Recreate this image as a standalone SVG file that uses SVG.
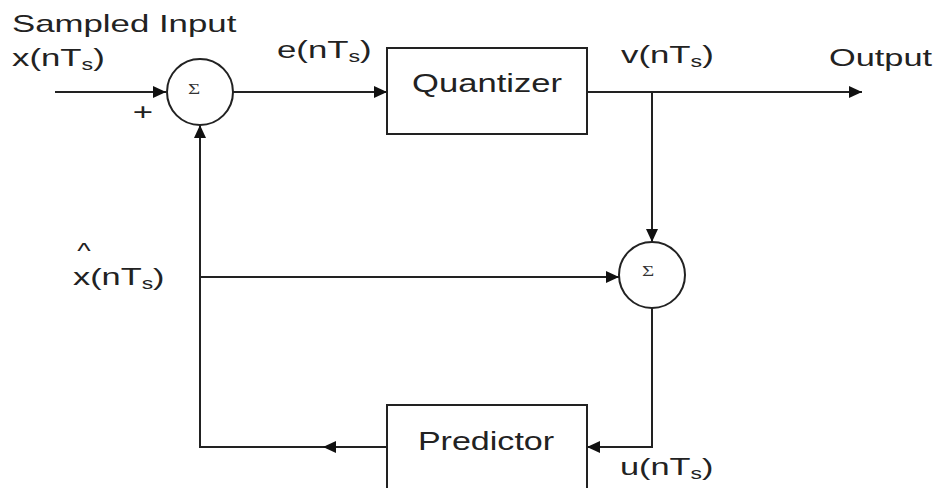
<svg xmlns="http://www.w3.org/2000/svg" width="938" height="488" viewBox="0 0 938 488">
<defs>
<style>
.ln{fill:none;stroke:#222;stroke-width:2}
.bx{fill:#fff;stroke:#222;stroke-width:2}
.t{font-family:"Liberation Sans",Arial,sans-serif;fill:#222}
.sg{font-family:"Liberation Serif","Times New Roman",serif;fill:#333;font-size:14px}
</style>
<marker id="ah" markerUnits="userSpaceOnUse" markerWidth="14" markerHeight="12" refX="13" refY="6" orient="auto">
<path d="M0,0 L13,6 L0,12 Z" fill="#111"/>
</marker>
</defs>
<rect width="938" height="488" fill="#fff"/>

<g id="connectors">
<path class="ln" d="M55 92 H166" marker-end="url(#ah)"/>
<path class="ln" d="M233 92 H387" marker-end="url(#ah)"/>
<path class="ln" d="M587 92 H862" marker-end="url(#ah)"/>
<path class="ln" d="M652 92 V242" marker-end="url(#ah)"/>
<path class="ln" d="M200 277 H619" marker-end="url(#ah)"/>
<path class="ln" d="M652 308 V447 H587" marker-end="url(#ah)"/>
<path class="ln" d="M387 447 H323" marker-end="url(#ah)"/>
<path class="ln" d="M323 447 H200 V125" marker-end="url(#ah)"/>
</g>

<g id="sum1">
<circle class="bx" cx="200" cy="92" r="33"/>
<text class="sg" transform="translate(194,94) scale(1.5,1)" text-anchor="middle">Σ</text>
</g>
<g id="quantizer">
<rect class="bx" x="387" y="48" width="200" height="86"/>
<text class="t" font-size="26" transform="translate(487,92) scale(1.33,1)" text-anchor="middle">Quantizer</text>
</g>
<g id="sum2">
<circle class="bx" cx="652" cy="275" r="33"/>
<text class="sg" transform="translate(648,276) scale(1.5,1)" text-anchor="middle">Σ</text>
</g>
<g id="predictor">
<rect class="bx" x="387" y="405" width="200" height="90"/>
<text class="t" font-size="26" transform="translate(486,450) scale(1.31,1)" text-anchor="middle">Predictor</text>
</g>

<g id="labels">
<text class="t" font-size="24" transform="translate(12,32) scale(1.45,1)">Sampled Input</text>
<text class="t" font-size="24" transform="translate(12,66) scale(1.45,1)">x(nT<tspan font-size="16" dy="4">s</tspan><tspan dy="-4">)</tspan></text>
<text class="t" font-size="24" transform="translate(277,58) scale(1.45,1)">e(nT<tspan font-size="16" dy="4">s</tspan><tspan dy="-4">)</tspan></text>
<text class="t" font-size="24" transform="translate(621,63) scale(1.45,1)">v(nT<tspan font-size="16" dy="4">s</tspan><tspan dy="-4">)</tspan></text>
<text class="t" font-size="24" transform="translate(829,66) scale(1.43,1)">Output</text>
<text class="t" font-size="24" transform="translate(143,120) scale(1.45,1)" text-anchor="middle">+</text>
<text class="t" font-size="22" transform="translate(84,258) scale(1.3,1)" text-anchor="middle">^</text>
<text class="t" font-size="24" transform="translate(73,285) scale(1.43,1)">x(nT<tspan font-size="16" dy="4">s</tspan><tspan dy="-4">)</tspan></text>
<text class="t" font-size="24" transform="translate(620,475) scale(1.43,1)">u(nT<tspan font-size="16" dy="4">s</tspan><tspan dy="-4">)</tspan></text>
</g>
</svg>
